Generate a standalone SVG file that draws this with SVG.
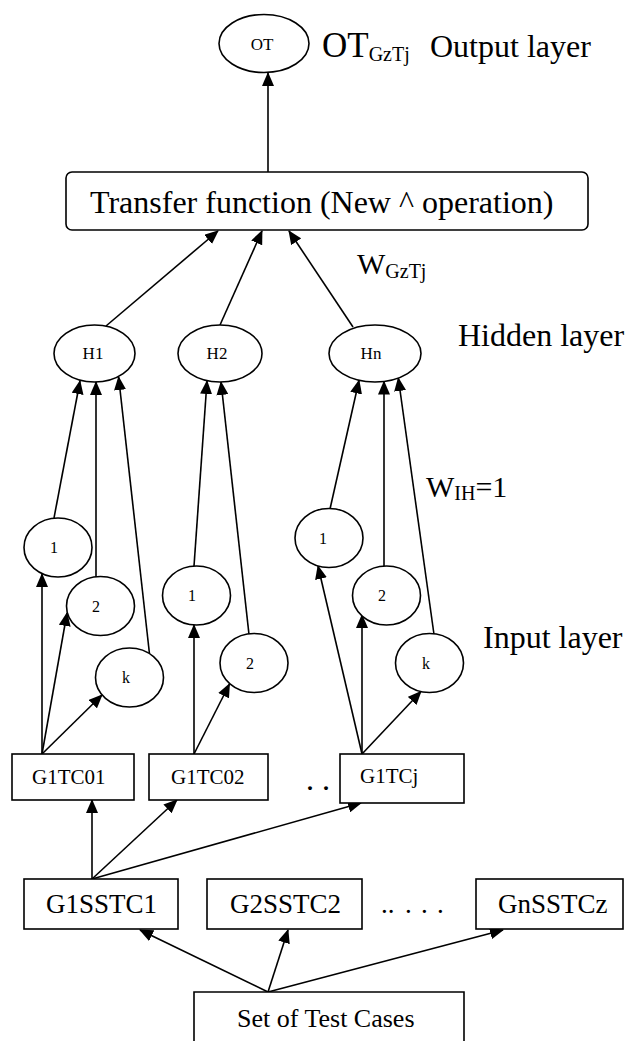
<svg xmlns="http://www.w3.org/2000/svg" width="625" height="1041" viewBox="0 0 625 1041">
<defs>
<style>
.n{fill:#fff;stroke:#000;stroke-width:1.6}
.t{font-family:"Liberation Serif","Times New Roman",serif;fill:#000}
.s{font-size:17px;text-anchor:middle}
.d{font-size:16px;text-anchor:middle}
.b{font-size:21px}
.m{font-size:27px}
.L{font-size:32px}
.c line{stroke:#000;stroke-width:1.6;marker-end:url(#ah)}
</style>
<marker id="ah" markerUnits="userSpaceOnUse" markerWidth="14" markerHeight="12" refX="13" refY="6" orient="auto">
<path d="M0,0 L14,6 L0,12 z" fill="#000"/>
</marker>
</defs>
<rect width="625" height="1041" fill="#fff"/>

<g id="connectors" class="c">
<line x1="268" y1="172" x2="268" y2="73"/>
<line x1="106" y1="326" x2="218" y2="231"/>
<line x1="220" y1="325" x2="262" y2="231"/>
<line x1="353" y1="327" x2="289" y2="231"/>
<line x1="54" y1="518" x2="80" y2="381"/>
<line x1="96" y1="577" x2="96" y2="382"/>
<line x1="149.5" y1="654" x2="118.6" y2="377"/>
<line x1="194" y1="566" x2="207" y2="381"/>
<line x1="249" y1="634.5" x2="221" y2="382"/>
<line x1="330" y1="509" x2="359" y2="380.5"/>
<line x1="384" y1="566" x2="384" y2="381.5"/>
<line x1="434" y1="634.5" x2="398.3" y2="378"/>
<line x1="42" y1="754" x2="42" y2="574"/>
<line x1="42" y1="754" x2="67" y2="613"/>
<line x1="42" y1="754" x2="102" y2="695"/>
<line x1="194" y1="754" x2="194" y2="625"/>
<line x1="194" y1="754" x2="229.5" y2="684"/>
<line x1="362" y1="754" x2="318" y2="566"/>
<line x1="362" y1="754" x2="362" y2="615"/>
<line x1="362" y1="754" x2="421" y2="691.5"/>
<line x1="92" y1="879" x2="92" y2="800"/>
<line x1="92" y1="879" x2="177" y2="800"/>
<line x1="92" y1="879" x2="361" y2="803"/>
<line x1="268" y1="992" x2="140" y2="930"/>
<line x1="268" y1="992" x2="288" y2="930"/>
<line x1="268" y1="992" x2="503" y2="930"/>
</g>

<g id="OT">
<ellipse class="n" cx="264" cy="43.5" rx="45" ry="29"/>
<text class="t s" x="262" y="50">OT</text>
</g>
<g id="labels">
<text class="t" x="322" y="57" font-size="35">OT<tspan font-size="20" dy="4">GzTj</tspan></text>
<text class="t L" x="430" y="57">Output layer</text>
<text class="t" x="357" y="274" font-size="30">W<tspan font-size="20" dy="4">GzTj</tspan></text>
<text class="t L" x="458" y="346">Hidden layer</text>
<text class="t" x="426" y="497" font-size="30">W<tspan font-size="20" dy="3">IH</tspan><tspan dy="-3">=1</tspan></text>
<text class="t L" x="483" y="648">Input layer</text>
</g>
<g id="transfer">
<rect class="n" x="66" y="172" width="522" height="58" rx="6"/>
<text class="t L" x="90" y="213">Transfer function (New ^ operation)</text>
</g>

<g id="H1"><ellipse class="n" cx="94.5" cy="353.5" rx="40.5" ry="28.5"/><text class="t s" x="93" y="359">H1</text></g>
<g id="H2"><ellipse class="n" cx="220" cy="353.5" rx="42" ry="28.5"/><text class="t s" x="217" y="359">H2</text></g>
<g id="Hn"><ellipse class="n" cx="375" cy="353.5" rx="46" ry="28.5"/><text class="t s" x="371" y="359">Hn</text></g>

<g id="in-g1-1"><ellipse class="n" cx="58" cy="547.5" rx="34" ry="29.5"/><text class="t d" x="54" y="553">1</text></g>
<g id="in-g1-2"><ellipse class="n" cx="100.5" cy="606" rx="34" ry="29.5"/><text class="t d" x="96" y="612">2</text></g>
<g id="in-g1-k"><ellipse class="n" cx="129.5" cy="677.5" rx="34" ry="29.5"/><text class="t d" x="126" y="683">k</text></g>
<g id="in-g2-1"><ellipse class="n" cx="196.5" cy="595.5" rx="34" ry="29.5"/><text class="t d" x="192" y="601">1</text></g>
<g id="in-g2-2"><ellipse class="n" cx="254" cy="663" rx="34" ry="29.5"/><text class="t d" x="250" y="669">2</text></g>
<g id="in-gj-1"><ellipse class="n" cx="329" cy="538" rx="34" ry="29.5"/><text class="t d" x="323" y="544">1</text></g>
<g id="in-gj-2"><ellipse class="n" cx="386.5" cy="595.5" rx="34" ry="29.5"/><text class="t d" x="382" y="601">2</text></g>
<g id="in-gj-k"><ellipse class="n" cx="429.5" cy="663" rx="34" ry="29.5"/><text class="t d" x="426" y="669">k</text></g>

<g id="G1TC01"><rect class="n" x="12" y="754" width="122" height="46"/><text class="t b" x="32" y="784">G1TC01</text></g>
<g id="G1TC02"><rect class="n" x="149" y="754" width="119" height="46"/><text class="t b" x="171" y="784">G1TC02</text></g>
<text class="t" x="307" y="790" font-size="24" font-weight="bold" letter-spacing="10">..</text>
<g id="G1TCj"><rect class="n" x="340" y="754" width="124" height="49"/><text class="t b" x="360" y="783">G1TCj</text></g>

<g id="G1SSTC1"><rect class="n" x="24" y="879" width="154" height="50"/><text class="t m" x="46" y="913">G1SSTC1</text></g>
<g id="G2SSTC2"><rect class="n" x="207" y="879" width="155" height="50"/><text class="t m" x="230" y="913">G2SSTC2</text></g>
<text class="t m" x="381" y="913">..<tspan x="405">.</tspan><tspan x="421">.</tspan><tspan x="437">.</tspan></text>
<g id="GnSSTCz"><rect class="n" x="476" y="879" width="147" height="50"/><text class="t m" x="498" y="913">GnSSTCz</text></g>

<g id="set"><path class="n" d="M194,1045 V992 H464 V1045"/><text class="t" x="237" y="1027" font-size="26">Set of Test Cases</text></g>
</svg>
